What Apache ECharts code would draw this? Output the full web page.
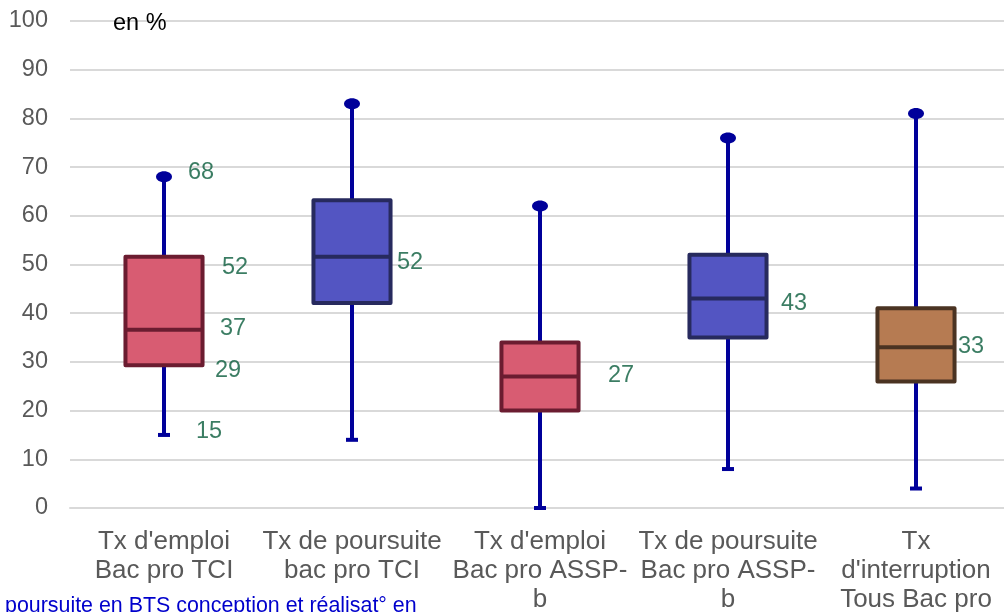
<!DOCTYPE html>
<html>
<head>
<meta charset="utf-8">
<script src="https://cdn.jsdelivr.net/npm/echarts@6/dist/echarts.min.js"></script>
<style>
html,body{margin:0;padding:0;background:#fff;}
#chart{width:1004px;height:612px;}
</style>
</head>
<body>
<div id="chart"></div>
<script>
// ---- data ----
var categories = [
  "Tx d'emploi\nBac pro TCI",
  "Tx de poursuite\nbac pro TCI",
  "Tx d'emploi\nBac pro ASSP-\nb",
  "Tx de poursuite\nBac pro ASSP-\nb",
  "Tx\nd'interruption\nTous Bac pro"
];
var mins    = [15, 14, 0, 8, 4];
var q1s     = [29.3, 42.1, 20, 35, 26];
var medians = [36.6, 51.6, 27, 43, 33];
var q3s     = [51.6, 63.2, 34, 52, 41];
var maxs    = [68, 83, 62, 76, 81];
var yTicks  = [0, 10, 20, 30, 40, 50, 60, 70, 80, 90, 100];
// displayed value labels: [category index, value]
var valueLabels = [
  [0, 68], [0, 51.6], [0, 36.6], [0, 29.3], [0, 15],
  [1, 51.6],
  [2, 27],
  [3, 43],
  [4, 33]
];
var unitText = "en %";
var footText = "poursuite en BTS conception et réalisat° en";

// ---- styles ----
var fills   = ['#D85C72', '#5355C2', '#D85C72', '#5355C2', '#B67B52'];
var borders = ['#6B1C30', '#272A5E', '#6B1C30', '#272A5E', '#4A3322'];
var whiskerColor = '#00009A';
var labelOffsets = [
  [24, -4], [58, 11], [56, -1], [51, 5], [32, -3],
  [45, 6],
  [68, -1],
  [53, 5],
  [42, -1]
];

var boxData = categories.map(function (c, i) {
  return [i, mins[i], q1s[i], medians[i], q3s[i], maxs[i]];
});

var chart = echarts.init(document.getElementById('chart'), null, {renderer: 'canvas'});

var option = {
  animation: false,
  backgroundColor: '#ffffff',
  grid: {left: 70, top: 21, width: 940, bottom: 104, containLabel: false, outerBoundsMode: 'none'},
  xAxis: {
    type: 'category',
    data: categories,
    axisLine: {show: true, lineStyle: {color: '#D9D9D9', width: 2}},
    axisTick: {show: false},
    splitLine: {show: false},
    axisLabel: {
      interval: 0,
      color: '#595959',
      fontFamily: 'Liberation Sans, Arial, sans-serif',
      fontSize: 26,
      lineHeight: 29,
      margin: 19,
      align: 'center'
    }
  },
  yAxis: {
    type: 'value',
    min: yTicks[0],
    max: yTicks[yTicks.length - 1],
    interval: 10,
    axisLine: {show: false},
    axisTick: {show: false},
    splitLine: {show: true, lineStyle: {color: '#D9D9D9', width: 2}},
    axisLabel: {
      color: '#595959',
      fontFamily: 'Liberation Sans, Arial, sans-serif',
      fontSize: 23.5,
      margin: 22
    }
  },
  graphic: [
    {
      type: 'text', left: 113, top: 12, z: 100,
      style: {text: unitText, fill: '#000000', font: '23.5px "Liberation Sans", Arial, sans-serif'}
    },
    {
      type: 'text', left: 5, top: 596, z: 100,
      style: {text: footText, fill: '#0000CC', font: '21.4px "Liberation Sans", Arial, sans-serif'}
    }
  ],
  series: [
    {
      type: 'custom',
      data: boxData,
      encode: {x: 0, y: [1, 2, 3, 4, 5]},
      z: 5,
      renderItem: function (params, api) {
        var idx = api.value(0);
        var pMin = api.coord([idx, api.value(1)]);
        var pQ1 = api.coord([idx, api.value(2)]);
        var pMed = api.coord([idx, api.value(3)]);
        var pQ3 = api.coord([idx, api.value(4)]);
        var pMax = api.coord([idx, api.value(5)]);
        var band = api.size([1, 0])[0];
        var bw = band * 0.41;
        var cx = pMed[0];
        var i = params.dataIndex;
        return {
          type: 'group',
          children: [
            {
              type: 'line',
              shape: {x1: cx, y1: pMin[1], x2: cx, y2: pMax[1]},
              style: {stroke: whiskerColor, lineWidth: 4}
            },
            {
              type: 'ellipse',
              shape: {cx: cx, cy: pMax[1], rx: 8, ry: 5.5},
              style: {fill: whiskerColor}
            },
            {
              type: 'rect',
              shape: {x: cx - 6, y: pMin[1] - 2, width: 12, height: 4},
              style: {fill: whiskerColor}
            },
            {
              type: 'rect',
              shape: {x: cx - bw / 2, y: pQ3[1], width: bw, height: pQ1[1] - pQ3[1]},
              style: {fill: fills[i], stroke: borders[i], lineWidth: 4, lineJoin: 'round'}
            },
            {
              type: 'line',
              shape: {x1: cx - bw / 2, y1: pMed[1], x2: cx + bw / 2, y2: pMed[1]},
              style: {stroke: borders[i], lineWidth: 4}
            }
          ]
        };
      }
    },
    {
      type: 'scatter',
      z: 10,
      symbolSize: 0,
      silent: true,
      data: valueLabels.map(function (v, k) {
        return {
          value: v,
          label: {
            show: true,
            position: labelOffsets[k],
            align: 'left',
            verticalAlign: 'middle',
            formatter: function (p) { return String(Math.round(p.value[1])); },
            color: '#0A5C3C',
            fontFamily: 'Liberation Sans, Arial, sans-serif',
            fontSize: 23.5
          }
        };
      })
    }
  ]
};
chart.setOption(option);
</script>
</body>
</html>
